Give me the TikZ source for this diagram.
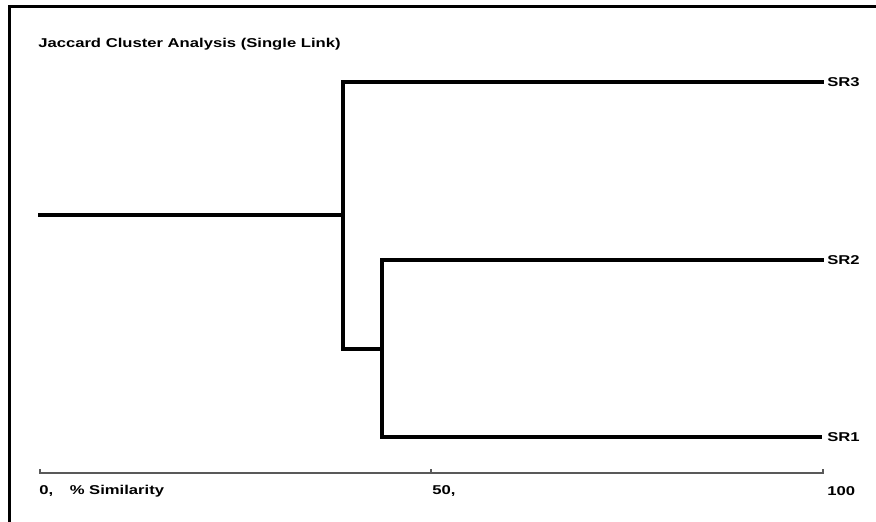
\documentclass[tikz,border=0pt]{standalone}
\usepackage{fontspec}
\setmainfont{Liberation Sans}
\newcommand{\wide}[1]{\scalebox{1.3}[1]{#1}}
\begin{document}
\begin{tikzpicture}[x=0.75pt,y=-0.75pt,
  branch/.style={line width=2.7pt,line join=miter,line cap=rect},
  axisline/.style={line width=0.9pt,draw=black!65},
  frameline/.style={line width=1.8pt},
  lbl/.style={font=\fontsize{9.6}{11}\selectfont\bfseries,inner sep=0pt},
]
\useasboundingbox (0,0) rectangle (876,522);
\fill[white] (0,0) rectangle (876,522);
% frame (top and left only)
\coordinate (fbl) at (9.5,522);
\coordinate (ftl) at (9.5,6.5);
\coordinate (ftr) at (876,6.5);
\draw[frameline] (fbl) -- (ftl) -- (ftr);
% title
\node[lbl,anchor=west] (title) at (38,44) {\wide{Jaccard Cluster Analysis (Single Link)}};
% leaves
\node[lbl,anchor=west] (sr3) at (827,82) {\wide{SR3}};
\node[lbl,anchor=west] (sr2) at (827,260) {\wide{SR2}};
\node[lbl,anchor=west] (sr1) at (827,437) {\wide{SR1}};
% internal nodes
\coordinate (root) at (40,215);
\coordinate (n1) at (343,215);
\coordinate (n2) at (382,349);
% dendrogram
\draw[branch] (sr3.west) ++(-5,0) -| (n1) |- (n2);
\draw[branch] (root) -- (n1);
\draw[branch] (sr2.west) ++(-5,0) -| (n2) |- ([xshift=-5]sr1.west);
% axis
\coordinate (a0) at (40,473);
\coordinate (a50) at (431,473);
\coordinate (a100) at (823,473);
\draw[axisline] (a0) ++(0,-4) -- (a0) -- (a100) -- ++(0,-4);
\draw[axisline] (a50) -- ++(0,-4);
\node[lbl,anchor=west] (l0) at (39,491) {\wide{0,}\hspace{1.3em}\wide{\% Similarity}};
\node[lbl,anchor=west] (l50) at (432,491) {\wide{50,}};
\node[lbl,anchor=west] (l100) at (827,491) {\wide{100}};
\end{tikzpicture}
\end{document}
